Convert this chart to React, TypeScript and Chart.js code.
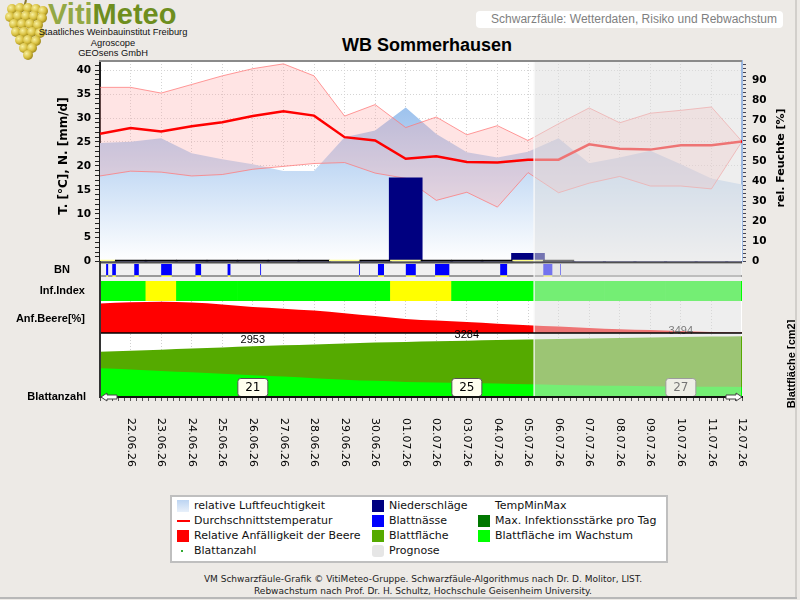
import React, { useEffect, useRef } from 'react';
import { Chart, registerables } from 'chart.js';

Chart.register(...registerables);
Chart.defaults.font.family = 'DejaVu Sans';

// ---------------- data ----------------
const dates = ['21.06.26', '22.06.26', '23.06.26', '24.06.26', '25.06.26', '26.06.26', '27.06.26', '28.06.26', '29.06.26', '30.06.26', '01.07.26', '02.07.26', '03.07.26', '04.07.26', '05.07.26', '06.07.26', '07.07.26', '08.07.26', '09.07.26', '10.07.26', '11.07.26', '12.07.26'];
const tempMax = [36.4, 36.4, 35.2, 37.0, 38.8, 40.3, 41.3, 38.8, 30.4, 32.8, 28.0, 30.2, 26.5, 28.4, 25.3, 28.8, 32.1, 29.0, 31.0, 31.6, 32.3, 25.1];
const tempMin = [17.9, 18.9, 18.7, 17.9, 18.2, 19.3, 19.9, 20.5, 20.7, 18.5, 17.4, 12.8, 14.5, 11.4, 18.6, 14.4, 16.4, 17.8, 15.8, 15.8, 15.2, 25.1];
const tempMean = [26.7, 27.9, 27.2, 28.3, 29.1, 30.4, 31.4, 30.5, 26.0, 25.3, 21.5, 22.0, 20.8, 20.7, 21.3, 21.3, 24.5, 23.6, 23.4, 24.3, 24.3, 25.1];
const humidity = [58.8, 59.5, 61.2, 53.8, 50.8, 48.3, 45.0, 45.0, 61.7, 65.0, 76.5, 63.3, 54.2, 51.7, 54.5, 61.2, 48.8, 51.7, 55.0, 48.3, 41.2, 38.3];
const precipitation = [0, 0, 0, 0, 0, 0, 0, 0, 0, 0, 17.5, 0, 0, 0, 1.75, 0, 0, 0, 0, 0, 0, 0];
const rainFlag = ['y', 'b', 'b', 'b', 'b', 'b', 'b', 'b', 'y', 'b', 'y', 'b', 'b', 'b', 'y', 'b'];
const leafWetStart = [0.20, 0.40, 1.12, 2.00, 3.12, 4.17, 5.24, 8.47, 9.09, 10.00, 10.96, 13.09, 14.50, 15.05];
const leafWetEnd = [0.27, 0.52, 1.27, 2.35, 3.31, 4.27, 5.27, 8.50, 9.29, 10.33, 11.43, 13.32, 14.80, 15.08];
const infectionIndex = [0, 0, 1, 0, 0, 0, 0, 0, 0, 0, 1, 1, 0, 0, 0, 0, 0, 0, 0, 0, 0, 0];
const berrySusceptibility = [92, 96, 98, 95, 89, 81, 76, 70, 62, 53, 44, 39, 34, 29, 24, 20, 16, 12, 9, 6, 3.5, 1.5];
const leafArea = [2640, 2700, 2760, 2820, 2885, 2953, 3010, 3065, 3120, 3170, 3210, 3250, 3284, 3320, 3355, 3385, 3410, 3435, 3465, 3494, 3520, 3545];
const leafAreaGrowing = [1670, 1600, 1520, 1440, 1350, 1270, 1190, 1100, 1010, 940, 880, 850, 820, 790, 740, 700, 670, 650, 630, 610, 595, 585];
const leafCountDays = [5, 12, 19];
const leafCount = [21, 25, 27];
const forecastStart = 14.2;

const T_MAX = 41.9;
const HUM_MAX = 99.5;
const LEAF_MAX = 5595;
const infColors = ['#00FF00', '#FFFF00', '#FFA500', '#FF0000'];
const FORECAST_FILL = 'rgba(222,222,222,0.52)';

const pts = (arr: number[]) => arr.map((v, i) => ({ x: i, y: v }));
const X_MAX = dates.length - 1;
const isWhole = (v: number) => Math.abs(v - Math.round(v)) < 1e-6;

function drawForecast(chart: any, top?: number, bottom?: number) {
  const { ctx, chartArea: a, scales } = chart;
  const x0 = scales.x.getPixelForValue(forecastStart);
  const t = top ?? a.top;
  const b = bottom ?? a.bottom;
  ctx.save();
  ctx.fillStyle = FORECAST_FILL;
  ctx.fillRect(x0, t, a.right - 1 - x0, b - t);
  ctx.strokeStyle = 'rgba(250,250,250,0.85)';
  ctx.lineWidth = 1.5;
  ctx.beginPath();
  ctx.moveTo(x0, t);
  ctx.lineTo(x0, b);
  ctx.stroke();
  ctx.restore();
}

function useChart(factory: (c: HTMLCanvasElement) => any) {
  const ref = useRef<HTMLCanvasElement>(null);
  useEffect(() => {
    const ch = factory(ref.current as HTMLCanvasElement);
    return () => ch.destroy();
  }, []);
  return ref;
}

const noPlugins = { legend: { display: false }, tooltip: { enabled: false } };

// ---------------- top panel ----------------
const topDecor = {
  id: 'topDecor',
  beforeDraw(chart: any) {
    const { ctx, chartArea: a } = chart;
    ctx.save();
    ctx.fillStyle = '#FFFFFF';
    ctx.fillRect(a.left, a.top, a.right - a.left, a.bottom - a.top);
    ctx.restore();
  },
  afterDatasetsDraw(chart: any) {
    drawForecast(chart);
  },
  afterDraw(chart: any) {
    const { ctx, chartArea: a } = chart;
    ctx.save();
    ctx.strokeStyle = '#8A8A8A';
    ctx.lineWidth = 2;
    ctx.beginPath();
    ctx.moveTo(a.left - 1, a.top);
    ctx.lineTo(a.right, a.top);
    ctx.stroke();
    ctx.restore();
  },
};

function TopChart() {
  const ref = useChart((cv) => new Chart(cv, {
    type: 'line',
    data: {
      datasets: [
        {
          type: 'line', label: 'relative Luftfeuchtigkeit', data: pts(humidity), yAxisID: 'yHum',
          fill: 'origin', borderWidth: 0, pointRadius: 0, order: 10,
          backgroundColor: (c: any) => {
            const a = c.chart.chartArea;
            if (!a) return 'rgba(180,205,240,1)';
            const g = c.chart.ctx.createLinearGradient(0, a.top, 0, a.bottom);
            g.addColorStop(0, 'rgb(128,176,232)');
            g.addColorStop(1, 'rgb(255,255,255)');
            return g;
          },
        },
        {
          type: 'line', label: 'TempMax', data: pts(tempMax), yAxisID: 'yT',
          borderColor: 'rgba(255,120,120,0.75)', borderWidth: 1, pointRadius: 0,
          fill: '+1', backgroundColor: 'rgba(255,165,165,0.3)', order: 8,
        },
        {
          type: 'line', label: 'TempMin', data: pts(tempMin), yAxisID: 'yT',
          borderColor: 'rgba(255,120,120,0.75)', borderWidth: 1, pointRadius: 0, fill: false, order: 7,
        },
        {
          type: 'line', label: 'Durchschnittstemperatur', data: pts(tempMean), yAxisID: 'yT',
          borderColor: '#FF0000', borderWidth: 2.5, pointRadius: 0, fill: false, order: 5,
        },
        {
          type: 'bar', label: 'Niederschläge', data: pts(precipitation), yAxisID: 'yT',
          backgroundColor: '#000080', barThickness: 33, grouped: false, order: 3, clip: 0,
        },
        {
          type: 'bar', label: 'flag', data: rainFlag.map((f, i) => ({ x: i, y: [0, 0.32] })), yAxisID: 'yT',
          backgroundColor: rainFlag.map((f) => (f === 'y' ? '#FFFF88' : '#000000')),
          categoryPercentage: 1, barPercentage: 1, grouped: false, order: 1, clip: 0,
        },
      ],
    },
    options: {
      responsive: false, animation: false,
      layout: { padding: { top: 61, bottom: 2, left: 0, right: 0 } },
      plugins: noPlugins,
      scales: {
        x: {
          type: 'linear', min: 0, max: X_MAX, offset: false,
          ticks: { display: false, stepSize: 1 },
          grid: { color: (c: any) => (c.tick && c.tick.value > 0 && c.tick.value < X_MAX ? '#D4D4D4' : 'transparent'), drawTicks: false, offset: false },
          border: { display: false, dash: [1, 2] },
          afterFit: (s: any) => { s.height = 0; },
        },
        yT: {
          position: 'left', min: 0, max: T_MAX,
          ticks: {
            stepSize: 1, autoSkip: false, includeBounds: false, padding: 4, color: '#000',
            font: { family: 'DejaVu Sans', size: 10.5, weight: 'bold' },
            callback: (v: any) => (isWhole(v) && Math.round(v) % 5 === 0 ? String(Math.round(v)) : ''),
          },
          grid: {
            color: (c: any) => (c.tick && isWhole(c.tick.value) && Math.round(c.tick.value) % 5 === 0 && c.tick.value > 0 ? '#D4D4D4' : 'transparent'),
            tickColor: '#222', tickLength: 5, tickBorderDash: [],
          },
          border: { display: true, color: '#1A1A1A', width: 2, dash: [1, 2] },
          afterFit: (s: any) => { s.width = 100; },
        },
        yHum: {
          position: 'right', min: 0, max: HUM_MAX,
          ticks: {
            stepSize: 2, autoSkip: false, includeBounds: false, padding: 6, color: '#000',
            font: { family: 'DejaVu Sans', size: 10.5, weight: 'bold' },
            callback: (v: any) => (isWhole(v) && Math.round(v) % 10 === 0 ? String(Math.round(v)) : ''),
          },
          grid: { drawOnChartArea: false, tickColor: '#445', tickLength: 4 },
          border: { display: true, color: '#9BB8E2', width: 2 },
          afterFit: (s: any) => { s.width = 58; },
        },
      },
    },
    plugins: [topDecor],
  } as any));
  return <canvas ref={ref} width={800} height={274} style={{ position: 'absolute', left: 0, top: 0 }} />;
}

// ---------------- leaf wetness row ----------------
const bnDecor = {
  id: 'bnDecor',
  beforeDatasetsDraw(chart: any) {
    const { ctx, chartArea: a } = chart;
    ctx.save();
    ctx.lineWidth = 2;
    ctx.strokeStyle = '#505050';
    ctx.beginPath(); ctx.moveTo(a.left, 1.5); ctx.lineTo(a.right, 1.5); ctx.stroke();
    ctx.strokeStyle = '#9A9A9A';
    ctx.beginPath(); ctx.moveTo(a.left, 15); ctx.lineTo(a.right, 15); ctx.stroke();
    ctx.restore();
  },
  afterDatasetsDraw(chart: any) {
    drawForecast(chart, 2.5, 16);
  },
};

function BNChart() {
  const ref = useChart((cv) => new Chart(cv, {
    type: 'bar',
    data: {
      labels: ['BN'],
      datasets: [{
        label: 'Blattnässe',
        data: leafWetStart.map((s, k) => ({ x: [s, leafWetEnd[k]], y: 'BN' })),
        backgroundColor: '#0000FF', borderColor: '#FFFF55',
        borderWidth: { top: 0, left: 0, right: 0, bottom: 2 }, borderSkipped: false,
        categoryPercentage: 1, barPercentage: 1, clip: 0,
      }],
    },
    options: {
      indexAxis: 'y', responsive: false, animation: false,
      layout: { padding: { left: 100, right: 58, top: 3, bottom: 1 } },
      plugins: noPlugins,
      scales: {
        x: { type: 'linear', min: 0, max: X_MAX, display: false, offset: false },
        y: { type: 'category', display: false },
      },
    },
    plugins: [bnDecor],
  } as any));
  return <canvas ref={ref} width={800} height={17} style={{ position: 'absolute', left: 0, top: 261 }} />;
}

// ---------------- infection index row ----------------
function InfChart() {
  const ref = useChart((cv) => new Chart(cv, {
    type: 'bar',
    data: {
      datasets: [{
        label: 'Inf.Index',
        data: infectionIndex.map((v, i) => ({ x: i, y: 1 })),
        backgroundColor: infectionIndex.map((v) => infColors[v]),
        categoryPercentage: 1, barPercentage: 1, clip: 0,
      }],
    },
    options: {
      responsive: false, animation: false,
      layout: { padding: { left: 100, right: 58, top: 0, bottom: 0 } },
      plugins: noPlugins,
      scales: {
        x: { type: 'linear', min: 0, max: X_MAX, display: false, offset: false, grid: { offset: false } },
        y: { type: 'linear', min: 0, max: 1, display: false },
      },
    },
    plugins: [{ id: 'infFc', afterDatasetsDraw: (chart: any) => drawForecast(chart) }],
  } as any));
  return <canvas ref={ref} width={800} height={20} style={{ position: 'absolute', left: 0, top: 281 }} />;
}

// ---------------- berry susceptibility + leaf area ----------------
function roundRect(ctx: any, x: number, y: number, w: number, h: number, r: number) {
  ctx.beginPath();
  ctx.moveTo(x + r, y);
  ctx.lineTo(x + w - r, y);
  ctx.quadraticCurveTo(x + w, y, x + w, y + r);
  ctx.lineTo(x + w, y + h - r);
  ctx.quadraticCurveTo(x + w, y + h, x + w - r, y + h);
  ctx.lineTo(x + r, y + h);
  ctx.quadraticCurveTo(x, y + h, x, y + h - r);
  ctx.lineTo(x, y + r);
  ctx.quadraticCurveTo(x, y, x + r, y);
  ctx.closePath();
}

const bottomDecor = {
  id: 'bottomDecor',
  beforeDraw(chart: any) {
    const { ctx, chartArea: a } = chart;
    ctx.save();
    ctx.fillStyle = '#FFFFFF';
    ctx.fillRect(a.left, a.top, a.right - a.left, a.bottom - a.top);
    ctx.restore();
  },
  afterDatasetsDraw(chart: any) {
    const { ctx, chartArea: a, scales } = chart;
    const xs = scales.x;
    const yl = scales.yLeaf;
    ctx.save();
    ctx.font = '11px "Liberation Sans"';
    ctx.fillStyle = '#000';
    ctx.textAlign = 'center';
    ctx.textBaseline = 'middle';
    leafCountDays.forEach((d) => {
      const v = leafArea[d];
      ctx.fillText(String(v), xs.getPixelForValue(d), yl.getPixelForValue(v) - 6);
    });
    leafCountDays.forEach((d, k) => {
      const x = xs.getPixelForValue(d);
      const b = a.bottom - 0.5;
      roundRect(ctx, x - 15, b - 18, 30, 18, 3);
      ctx.fillStyle = '#FFFFEE';
      ctx.fill();
      ctx.lineWidth = 1;
      ctx.strokeStyle = '#555';
      ctx.stroke();
      ctx.fillStyle = '#000';
      ctx.font = '12px "DejaVu Sans"';
      ctx.fillText(String(leafCount[k]), x, b - 9);
    });
    ctx.restore();
    drawForecast(chart);
    const y0 = scales.yBerry.getPixelForValue(0);
    ctx.save();
    ctx.strokeStyle = '#000';
    ctx.lineWidth = 1.5;
    ctx.beginPath();
    ctx.moveTo(a.left, y0);
    ctx.lineTo(a.right, y0);
    ctx.stroke();
    ctx.restore();
  },
  afterDraw(chart: any) {
    const { ctx, chartArea: a, scales } = chart;
    const xs = scales.x;
    ctx.save();
    ctx.strokeStyle = '#111';
    ctx.lineWidth = 2;
    ctx.beginPath();
    ctx.moveTo(a.left, a.bottom);
    ctx.lineTo(a.right, a.bottom);
    ctx.stroke();
    const yb = a.bottom;
    const arrow = (tip: number, dir: number) => {
      ctx.beginPath();
      ctx.moveTo(tip, yb);
      ctx.lineTo(tip + dir * 6, yb - 4);
      ctx.lineTo(tip + dir * 6, yb - 2);
      ctx.lineTo(tip + dir * 16, yb - 2);
      ctx.lineTo(tip + dir * 16, yb + 2);
      ctx.lineTo(tip + dir * 6, yb + 2);
      ctx.lineTo(tip + dir * 6, yb + 4);
      ctx.closePath();
      ctx.fillStyle = '#FFFFFF';
      ctx.fill();
      ctx.lineWidth = 1;
      ctx.strokeStyle = '#444';
      ctx.stroke();
    };
    arrow(a.left + 1, 1);
    arrow(a.right, -1);
    ctx.font = '11px "DejaVu Sans"';
    ctx.fillStyle = '#000';
    ctx.textAlign = 'left';
    ctx.textBaseline = 'middle';
    for (let i = 1; i < dates.length; i++) {
      ctx.save();
      ctx.translate(xs.getPixelForValue(i), a.bottom + 21);
      ctx.rotate(Math.PI / 2);
      ctx.fillText(dates[i], 0, 0);
      ctx.restore();
    }
    ctx.restore();
  },
};

function BottomChart() {
  const ref = useChart((cv) => new Chart(cv, {
    type: 'line',
    data: {
      datasets: [
        {
          label: 'Blattfläche', data: pts(leafArea), yAxisID: 'yLeaf', fill: 'origin',
          backgroundColor: '#55AA00', borderWidth: 0, pointRadius: 0, cubicInterpolationMode: 'monotone', order: 5,
        },
        {
          label: 'Blattfläche im Wachstum', data: pts(leafAreaGrowing), yAxisID: 'yLeaf', fill: 'origin',
          backgroundColor: '#00FF00', borderWidth: 0, pointRadius: 0, cubicInterpolationMode: 'monotone', order: 4,
        },
        {
          label: 'Relative Anfälligkeit der Beere', data: pts(berrySusceptibility), yAxisID: 'yBerry', fill: { value: 0 },
          backgroundColor: '#FF0000', borderWidth: 0, pointRadius: 0, cubicInterpolationMode: 'monotone', order: 3,
        },
      ],
    },
    options: {
      responsive: false, animation: false,
      layout: { padding: { left: 100, right: 58, top: 1, bottom: 0 } },
      plugins: noPlugins,
      scales: {
        x: {
          type: 'linear', min: 0, max: X_MAX, position: 'bottom', offset: false,
          ticks: { display: false, stepSize: 0.2, autoSkip: false, includeBounds: false },
          grid: {
            color: (c: any) => (c.tick && isWhole(c.tick.value) && c.tick.value > 0 && c.tick.value < X_MAX ? '#D0D0D0' : 'transparent'),
            tickColor: '#555', tickLength: 4, drawTicks: true, tickBorderDash: [], offset: false,
          },
          border: { display: true, color: '#111', width: 2, dash: [1, 2] },
          afterFit: (s: any) => { s.height = 83; },
        },
        yBerry: { type: 'linear', position: 'left', min: -200, max: 100, display: false },
        yLeaf: { type: 'linear', position: 'right', min: 0, max: LEAF_MAX, display: false },
      },
    },
    plugins: [bottomDecor],
  } as any));
  return <canvas ref={ref} width={800} height={180} style={{ position: 'absolute', left: 0, top: 300 }} />;
}

// ---------------- page ----------------
const grapes: number[][] = [
  [10, 9], [18, 8], [26, 8], [34, 9], [41, 11],
  [8, 17], [16, 16], [24, 16], [32, 16], [40, 18],
  [12, 24], [20, 24], [28, 24], [36, 25],
  [14, 32], [22, 32], [30, 32], [38, 33],
  [18, 40], [26, 40], [34, 41],
  [22, 48], [30, 48],
  [26, 55],
];

function Grapes() {
  return (
    <svg width={48} height={60} style={{ position: 'absolute', left: 2, top: 0 }}>
      <defs>
        <radialGradient id="gr" cx="0.35" cy="0.35" r="0.7">
          <stop offset="0" stopColor="#F8F0A0" />
          <stop offset="0.6" stopColor="#D8C040" />
          <stop offset="1" stopColor="#9A8418" />
        </radialGradient>
      </defs>
      <path d="M24 0 L22 8" stroke="#8A7A30" strokeWidth={2} />
      {grapes.map(([cx, cy], k) => (
        <circle key={k} cx={cx} cy={cy} r={5} fill="url(#gr)" />
      ))}
    </svg>
  );
}

const abs = (o: any) => ({ position: 'absolute', ...o } as React.CSSProperties);
const legendFont: React.CSSProperties = { fontFamily: '"DejaVu Sans"', fontSize: 11, color: '#111', whiteSpace: 'nowrap', lineHeight: '14px' };

function LegendItem({ x, y, swatch, text }: { x: number; y: number; swatch?: React.ReactNode; text: string }) {
  return (
    <>
      {swatch ? <div style={abs({ left: x, top: y - 6 })}>{swatch}</div> : null}
      <div style={abs({ left: x + 17, top: y - 7, ...legendFont })}>{text}</div>
    </>
  );
}

const sq = (bg: string, extra: any = {}) => <div style={{ width: 12, height: 12, background: bg, ...extra }} />;

function Legend() {
  const c1 = 177, c2 = 372, c3 = 478;
  const r = [506, 521, 536, 551];
  return (
    <>
      <div style={abs({ left: 170, top: 495, width: 498, height: 68, background: '#fff', border: '2px solid #BFBFBF', boxSizing: 'border-box' })} />
      <LegendItem x={c1} y={r[0]} swatch={sq('linear-gradient(#BCD4F2, #E8F0FA)')} text="relative Luftfeuchtigkeit" />
      <LegendItem x={c1} y={r[1]} swatch={<div style={{ width: 13, height: 2, marginTop: 5, background: '#FF0000' }} />} text="Durchschnittstemperatur" />
      <LegendItem x={c1} y={r[2]} swatch={sq('#FF0000')} text="Relative Anfälligkeit der Beere" />
      <LegendItem x={c1} y={r[3]} swatch={<div style={{ width: 2, height: 2, marginTop: 5, marginLeft: 4, background: '#33AA33' }} />} text="Blattanzahl" />
      <LegendItem x={c2} y={r[0]} swatch={sq('#000080')} text="Niederschläge" />
      <LegendItem x={c2} y={r[1]} swatch={sq('#0000FF')} text="Blattnässe" />
      <LegendItem x={c2} y={r[2]} swatch={sq('#55AA00')} text="Blattfläche" />
      <LegendItem x={c2} y={r[3]} swatch={sq('#E6E6E6', { borderRadius: 3 })} text="Prognose" />
      <LegendItem x={c3} y={r[0]} text="TempMinMax" />
      <LegendItem x={c3} y={r[1]} swatch={sq('#007700')} text="Max. Infektionsstärke pro Tag" />
      <LegendItem x={c3} y={r[2]} swatch={sq('#00FF00')} text="Blattfläche im Wachstum" />
    </>
  );
}

const rot = (cx: number, cy: number, font: string): React.CSSProperties => ({
  position: 'absolute', left: cx, top: cy, transform: 'translate(-50%,-50%) rotate(-90deg)',
  whiteSpace: 'nowrap', font, color: '#000', lineHeight: '14px',
});

const rowLabel: React.CSSProperties = { font: 'bold 11px "Liberation Sans"', color: '#000', lineHeight: '14px', whiteSpace: 'nowrap' };

export default function App() {
  useEffect(() => {
    document.body.style.margin = '0';
  }, []);
  return (
    <div style={{ position: 'relative', width: 800, height: 600, background: '#EDEAE6', overflow: 'hidden', fontFamily: '"Liberation Sans"' }}>
      <Grapes />
      <div style={abs({ left: 48, top: -3, font: 'bold 29px "Liberation Sans"', lineHeight: '34px', whiteSpace: 'nowrap' })}>
        <span style={{ color: '#93A845' }}>Viti</span><span style={{ color: '#6E8E1E' }}>Meteo</span>
      </div>
      <div style={abs({ left: 33, top: 27, width: 160, textAlign: 'center', font: '9.3px "Liberation Sans"', lineHeight: '10.5px', color: '#111' })}>
        Staatliches Weinbauinstitut Freiburg<br />Agroscope<br />GEOsens GmbH
      </div>
      <div style={abs({ left: 476, top: 11, width: 307, height: 17, background: '#fff', borderRadius: 4, textAlign: 'right', boxSizing: 'border-box', paddingRight: 6, font: '12px "Liberation Sans"', lineHeight: '17px', color: '#7F7F7F', whiteSpace: 'nowrap' })}>
        Schwarzfäule: Wetterdaten, Risiko und Rebwachstum
      </div>
      <div style={abs({ left: 227, top: 34, width: 400, textAlign: 'center', font: 'bold 18px "Liberation Sans"', lineHeight: '22px', color: '#000' })}>
        WB Sommerhausen
      </div>

      <div style={abs({ left: 100, top: 261, width: 642, height: 40, background: '#F0F0F0' })} />
      <TopChart />
      <BNChart />
      <InfChart />
      <BottomChart />
      <div style={abs({ left: 99, top: 261, width: 2, height: 137, background: '#333' })} />

      <div style={rot(63, 156, 'bold 12px "DejaVu Sans"')}>T. [°C], N. [mm/d]</div>
      <div style={rot(781, 158, 'bold 11px "DejaVu Sans"')}>rel. Feuchte [%]</div>
      <div style={rot(791, 364, 'bold 11px "Liberation Sans"')}>Blattfläche [cm2]</div>

      <div style={abs({ left: 62, top: 262, transform: 'translateX(-50%)', ...rowLabel })}>BN</div>
      <div style={abs({ left: 0, width: 85, top: 283, textAlign: 'right', ...rowLabel })}>Inf.Index</div>
      <div style={abs({ left: 0, width: 85, top: 311, textAlign: 'right', ...rowLabel })}>Anf.Beere[%]</div>
      <div style={abs({ left: 0, width: 86, top: 389, textAlign: 'right', ...rowLabel })}>Blattanzahl</div>

      <Legend />

      <div style={abs({ left: 123, top: 573, width: 600, textAlign: 'center', font: '9px "DejaVu Sans"', lineHeight: '12px', color: '#222', whiteSpace: 'nowrap' })}>
        VM Schwarzfäule-Grafik © VitiMeteo-Gruppe. Schwarzfäule-Algorithmus nach Dr. D. Molitor, LIST.<br />
        Rebwachstum nach Prof. Dr. H. Schultz, Hochschule Geisenheim University.
      </div>
      <div style={abs({ left: 795, top: 0, width: 2, height: 598, background: '#D2CFCB' })} />
      <div style={abs({ left: 0, top: 597, width: 797, height: 2, background: '#B8B8B8' })} />
    </div>
  );
}
